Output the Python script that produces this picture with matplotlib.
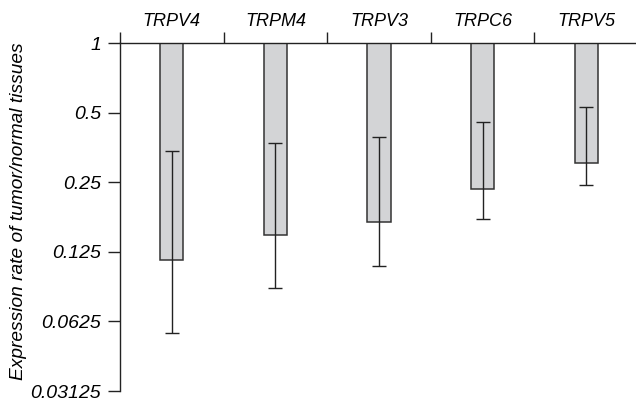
import matplotlib
matplotlib.use('Agg')
import matplotlib.pyplot as plt
import numpy as np

### Data. ###
genes = ['TRPV4', 'TRPM4', 'TRPV3', 'TRPC6', 'TRPV5']
ratio = [0.1155, 0.148, 0.169, 0.233, 0.302]
err_hi = [0.340, 0.369, 0.392, 0.456, 0.527]
err_lo = [0.0556, 0.0874, 0.1088, 0.174, 0.243]
yticks = [1, 0.5, 0.25, 0.125, 0.0625, 0.03125]
ytick_labels = ['1', '0.5', '0.25', '0.125', '0.0625', '0.03125']

plt.rcParams['font.family'] = ['Liberation Sans', 'DejaVu Sans']
plt.rcParams['font.style'] = 'italic'

fig = plt.figure(figsize=(6.36, 4.0), dpi=100)
ax = fig.add_axes([120 / 636, 1 - 391 / 400, 1 - 120 / 636, (391 - 43) / 400])

x = np.arange(len(genes))
ratio = np.array(ratio)
ax.bar(x, 1 - ratio, bottom=ratio, width=0.225, color='#d3d4d6',
       edgecolor='#333333', linewidth=1.1, zorder=2)
yerr = [ratio - np.array(err_lo), np.array(err_hi) - ratio]
ax.errorbar(x, ratio, yerr=yerr, fmt='none', ecolor='#222222',
            elinewidth=1.0, capsize=5, capthick=1.0, zorder=3)

ax.set_yscale('log', base=2)
ax.set_ylim(0.03125, 1)
ax.set_xlim(-0.5, 4.48)

ax.set_yticks(yticks)
ax.set_yticklabels(ytick_labels, fontsize=14)
ax.yaxis.set_minor_locator(matplotlib.ticker.NullLocator())
ax.tick_params(axis='y', length=8.5, width=1.0, color='#222222', pad=5)

# category labels on top, tick marks between them
ax.xaxis.tick_top()
ax.set_xticks(np.arange(-0.5, 4.0, 1.0))
ax.set_xticklabels([])
ax.set_xticks(x, minor=True)
ax.set_xticklabels(genes, minor=True, fontsize=13)
ax.tick_params(axis='x', which='major', length=8, width=1.0, color='#222222')
ax.tick_params(axis='x', which='minor', length=0, pad=9)

for s in ['right', 'bottom']:
    ax.spines[s].set_visible(False)
for s in ['left', 'top']:
    ax.spines[s].set_linewidth(1.0)
    ax.spines[s].set_color('#222222')

fig.text(19 / 636, 1 - 211 / 400, 'Expression rate of tumor/normal tissues',
         rotation=90, ha='center', va='center', fontsize=13.8)

fig.savefig('out.png', dpi=100)
